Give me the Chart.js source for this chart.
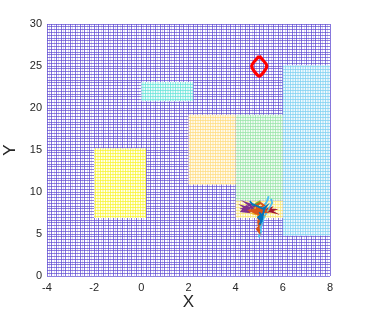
<!DOCTYPE html>
<html>
<head>
<meta charset="utf-8">
<script src="https://cdn.jsdelivr.net/npm/chart.js@4"></script>
<style>
  html, body { margin: 0; padding: 0; background: #fff; }
</style>
</head>
<body>
<canvas id="chart" width="365" height="313"></canvas>
<script>
// axis ranges / ticks
const xRange = [-4, 8];
const yRange = [0, 30];
const xLabelStep = 2;
const yLabelStep = 5;

// raised regions of the mesh: [x0, x1, y0, y1]
const yellowBox = [-2, 0.2, 6.9, 15.2];
const cyanBox = [0, 2.2, 20.8, 23.1];
const peachBox = [2, 4, 10.9, 19.2];
const greenBox = [4, 6, 9.0, 19.2];
const lowYellowBox = [4, 6, 6.9, 9.0];
const blueBox = [6, 8, 4.8, 25.1];

// target marker (diamond around 5, 25)
const target = [[5, 26.2], [5.32, 25], [5, 23.8], [4.68, 25], [5, 26.2]];

// walker traces near (5, 7.7)
const walkBlue = [[5.0, 7.6], [5.1, 7.2], [5.05, 6.8], [5.15, 7.4], [4.95, 7.0], [5.1, 6.5], [5.0, 6.1], [5.12, 6.7], [5.2, 7.9], [5.3, 8.3], [5.15, 8.0], [4.7, 8.6], [4.6, 8.9], [4.75, 8.4]];
const walkOrange = [[4.8, 7.9], [5.1, 7.6], [4.9, 7.4], [5.2, 7.8], [4.7, 7.7], [5.0, 8.1], [5.3, 7.6], [4.9, 7.5], [5.1, 8.0], [4.6, 7.8], [5.0, 7.3], [5.2, 7.9], [4.8, 7.6], [5.1, 7.7], [4.95, 6.9], [5.05, 6.2], [4.9, 5.6], [5.0, 5.2], [4.95, 6.5], [5.05, 7.1], [4.85, 8.4], [5.05, 8.7], [5.2, 8.4], [4.9, 8.0]];
const walkYellow = [[4.9, 7.6], [5.2, 7.5], [4.8, 7.8], [5.1, 7.9], [4.75, 7.5], [5.05, 7.4], [5.25, 7.7], [4.85, 8.0], [5.0, 7.5], [5.2, 7.6], [4.9, 7.2], [5.1, 7.4], [4.95, 7.7], [5.15, 7.3], [4.8, 7.4], [5.0, 7.8]];
const walkPurple = [[4.6, 7.9], [4.35, 8.1], [4.5, 8.4], [4.25, 7.7], [4.55, 7.6], [4.4, 8.2], [4.65, 8.5], [4.45, 8.7], [4.7, 8.2], [4.3, 8.0], [4.6, 7.7], [4.8, 8.3], [4.35, 7.8], [4.5, 7.9], [4.3, 8.3], [4.55, 8.1]];
const walkGreen = [[4.9, 8.2], [5.0, 8.6], [4.8, 8.5], [5.05, 8.9], [4.9, 8.7], [4.75, 8.1], [4.95, 7.9], [5.0, 8.3]];
const walkCyan = [[5.2, 8.4], [5.35, 9.0], [5.4, 9.5], [5.3, 8.7], [5.1, 8.0], [5.05, 7.2], [5.15, 6.6], [5.0, 6.0], [5.08, 5.3], [4.98, 4.6], [5.05, 5.5], [5.2, 7.0], [5.45, 8.2], [5.55, 8.7], [5.5, 9.2]];
const walkRed = [[5.3, 7.8], [5.55, 7.7], [5.4, 8.0], [5.65, 7.9], [5.35, 7.6], [5.5, 8.1], [5.25, 7.9], [5.45, 7.7], [5.6, 7.6], [5.4, 7.9]];

const walkColors = ['#0072BD', '#D95319', '#EDB120', '#7E2F8E', '#77AC30', '#4DBEEE', '#A2142F'];

function box(b) {
  return [
    { x: b[0], y: b[2] }, { x: b[1], y: b[2] },
    { x: b[1], y: b[3] }, { x: b[0], y: b[3] }, { x: b[0], y: b[2] }
  ];
}
function pts(arr) { return arr.map(p => ({ x: p[0], y: p[1] })); }

// striped fill that imitates the mesh lines of a raised patch
function meshPattern(line, fill) {
  const c = document.createElement('canvas');
  c.width = 5; c.height = 3;
  const g = c.getContext('2d');
  g.fillStyle = fill; g.fillRect(0, 0, 5, 3);
  g.fillStyle = line;
  g.globalAlpha = 0.75;
  g.fillRect(0, 0, 5, 1);
  g.fillRect(0, 0, 1, 3);
  g.globalAlpha = 0.35;
  g.fillRect(2, 0, 2, 3);
  return g.createPattern(c, 'repeat');
}

function patch(b, line, fill) {
  return {
    data: box(b), showLine: true, fill: 'shape', borderWidth: 0, order: 10,
    borderColor: 'rgba(0,0,0,0)', backgroundColor: meshPattern(line, fill),
    pointRadius: 0
  };
}

const walks = [walkBlue, walkOrange, walkYellow, walkPurple, walkGreen, walkCyan, walkRed];
const walkSets = walks.map((w, i) => ({
  data: pts(w), showLine: true, fill: false, borderColor: walkColors[i],
  borderWidth: 1.8, pointRadius: 0, order: 2
}));

const ctx = document.getElementById('chart').getContext('2d');
new Chart(ctx, {
  type: 'scatter',
  data: {
    datasets: [
      patch(yellowBox, '#f8f430', '#fffff0'),
      patch(cyanBox, '#66e4da', '#effcfa'),
      patch(peachBox, '#ffdc80', '#fffaf0'),
      patch(greenBox, '#98e4a8', '#f2fcf4'),
      patch(lowYellowBox, '#f6e470', '#fffcf0'),
      patch(blueBox, '#80d0f2', '#f0f9fd'),
      ...walkSets,
      {
        data: pts(target), showLine: true, fill: false, borderColor: '#ff0000',
        borderWidth: 3.2, pointRadius: 0, tension: 0.25, order: 1
      }
    ]
  },
  options: {
    responsive: false,
    animation: false,
    layout: { padding: { top: 24, right: 35, left: 0, bottom: 0 } },
    plugins: { legend: { display: false }, tooltip: { enabled: false } },
    scales: {
      x: {
        type: 'linear', min: xRange[0], max: xRange[1],
        afterFit: s => { s.height = 37; },
        border: { display: false },
        grid: {
          drawTicks: false,
          color: c => (Math.abs(c.tick.value * 5 - Math.round(c.tick.value * 5)) < 1e-6) ? 'rgba(95,75,210,0.75)' : 'rgba(95,75,210,0.25)'
        },
        ticks: {
          stepSize: 0.1, autoSkip: false, maxRotation: 0, padding: 5,
          color: '#262626', font: { size: 11 },
          callback: v => (Math.abs(v / xLabelStep - Math.round(v / xLabelStep)) < 1e-6) ? String(Math.round(v)) : ''
        },
        title: { display: true, text: 'X', color: '#262626', font: { size: 17 }, padding: { top: 0, bottom: 0 } }
      },
      y: {
        type: 'linear', min: yRange[0], max: yRange[1],
        afterFit: s => { s.width = 47; },
        border: { display: false },
        grid: { drawTicks: false, color: 'rgba(95,75,210,0.7)' },
        ticks: {
          stepSize: 1 / 3, autoSkip: false, padding: 5,
          color: '#262626', font: { size: 11 },
          callback: v => (Math.abs(v / yLabelStep - Math.round(v / yLabelStep)) < 1e-6) ? String(Math.round(v)) : ''
        },
        title: { display: true, text: 'Y', color: '#262626', font: { size: 17 }, padding: { top: 0, bottom: 4 } }
      }
    }
  }
});
</script>
</body>
</html>
